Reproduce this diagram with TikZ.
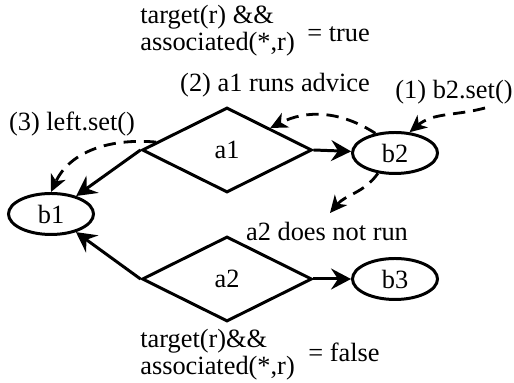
\documentclass[tikz,border=0pt]{standalone}
\usepackage{fontspec}
\setmainfont{Liberation Serif}
\usepackage{tikz}
\usetikzlibrary{arrows.meta,positioning,shapes.geometric,calc}

\begin{document}
\begin{tikzpicture}[
    font=\fontsize{15}{15.4}\selectfont,
    aspectnode/.style={diamond, draw, line width=1.7pt, aspect=2, minimum width=3.4cm, minimum height=1.7cm, inner sep=0pt},
    beannode/.style={ellipse, draw, line width=1.7pt, minimum width=1.7cm, minimum height=0.82cm, inner sep=0pt},
    flow/.style={line width=1.7pt, -{Stealth[length=0.4cm,width=0.42cm,inset=0.14cm]}},
    call/.style={line width=1.6pt, dash pattern=on 7pt off 4.5pt, -{Stealth[length=0.34cm,width=0.32cm,inset=0.1cm]}},
    lbl/.style={inner sep=0pt, align=left}
]
    \useasboundingbox (0,0) rectangle (10.28,7.66);

    % Aspects
    \node[aspectnode] (a1) at (4.54,4.66) {a1};
    \node[aspectnode] (a2) at (4.54,2.08) {a2};

    % Beans
    \node[beannode] (b1) at (1.02,3.38) {b1};
    \node[beannode] (b2) at (7.9,4.6) {b2};
    \node[beannode] (b3) at (7.9,2.08) {b3};

    % Advice edges
    \draw[flow] (a1.east) -- (b2);
    \draw[flow] (a1.west) -- (b1);
    \draw[flow] (a2.west) -- (b1);
    \draw[flow] (a2.east) -- (b3);

    % Pointcut results
    \node[lbl, anchor=west] (pc1) at (2.8,7.04) {target(r) \&\&\\associated(*,r)};
    \node[lbl, anchor=west] (res1) at (6.14,6.98) {= true};
    \node[lbl, anchor=west] (pc2) at (2.8,0.56) {target(r)\&\&\\associated(*,r)};
    \node[lbl, anchor=west] (res2) at (6.16,0.62) {= false};

    % Call sequence
    \node[lbl] (step1) at (9.08,5.82) {(1) b2.set()};
    \node[lbl] (step2) at (5.5,5.96) {(2) a1 runs advice};
    \node[lbl] (step3) at (1.44,5.18) {(3) left.set()};
    \node[lbl] (skip) at (6.54,3.04) {a2 does not run};

    \coordinate (s1) at (9.7,5.5);
    \coordinate (e4) at (6.6,3.4);
    \draw[call] (s1) to[out=195,in=40] (b2.55);
    \draw[call] (b2.135) to[bend right=30] (a1.north east);
    \draw[call] ($(a1.west)!0.18!(a1.north)$) to[out=175,in=65] (b1.north);
    \draw[call] (b2.230) to[out=235,in=50] (e4);
\end{tikzpicture}
\end{document}
